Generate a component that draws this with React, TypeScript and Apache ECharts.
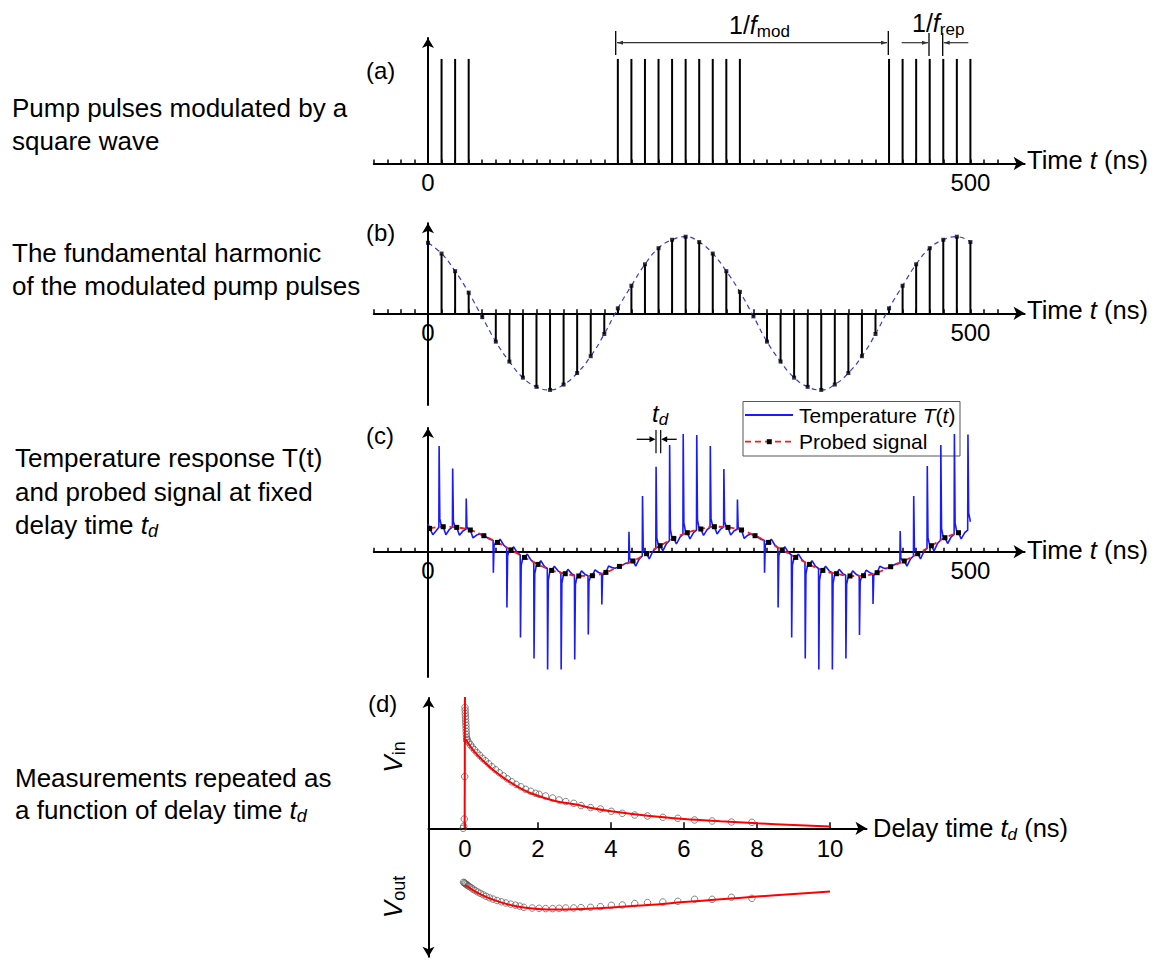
import React, { useEffect, useRef } from 'react';
import * as echarts from 'echarts';

const FONT = '"Liberation Sans", Arial, Helvetica, sans-serif';
const PULSE_PERIOD = 12.5; // ns between pump pulses (1/f_rep)

// ---------- (a) square-wave modulated pump pulses ----------
const aPulseIndex = [0, 1, 2, 3, 14, 15, 16, 17, 18, 19, 20, 21, 22, 23, 34, 35, 36, 37, 38, 39, 40];
const aPulseHeight = 1;

// ---------- (b) fundamental harmonic weights, pulse k = 0..40 ----------
const bHarmonic = [
  0.92, 0.78, 0.55, 0.27, -0.05, -0.37, -0.63, -0.84, -0.96, -1.0,
  -0.93, -0.78, -0.56, -0.27, 0.065, 0.36, 0.64, 0.85, 0.96, 1.0,
  0.93, 0.78, 0.55, 0.28, -0.04, -0.37, -0.63, -0.84, -0.96, -1.0,
  -0.93, -0.78, -0.56, -0.27, 0.065, 0.36, 0.64, 0.85, 0.96, 1.0, 0.93,
];

// ---------- (c) temperature response and probed signal ----------
const cProbeOffset = 1.5; // ns after each pulse slot
const cSpikeOffset = -2.5;
const cProbe = [
  23.3, 25, 24.3, 21.7, 16, 9.3, 1.7, -5.7, -12.7, -18.7,
  -22, -24.3, -24, -20.7, -14.7, -9.3, -2, 6, 13.3, 19,
  22.7, 25, 24.3, 21.7, 16, 9.3, 1.7, -5.7, -12.7, -18.7,
  -22, -24.3, -24, -21, -15, -9.3, -2, 6, 14, 19,
];
// values for pulse k = 1..40
const cPre = [
  24.5, 24.5, 22.5, 17.8, 11.4, 4.1, -3.3, -10.5, -16.8, -20.9,
  -23.6, -24.1, -21.8, -16.6, -11, -4.3, 3.4, 11, 17.2, 21.5,
  24.3, 24.5, 22.5, 17.8, 11.4, 4.1, -3.3, -10.5, -16.8, -20.9,
  -23.6, -24.1, -22, -16.9, -11, -4.3, 3.4, 11.4, 17.4, 21.5,
];
const cPeak = [
  105.7, 83.3, 53.3, null, -21, -55.7, -85.7, -106.7, -117.7, -117.7,
  -107.7, -82.7, -52.7, null, 20, 55.7, 85, 106.7, 117.7, 116.7,
  105.7, 82.7, 52.3, null, -21, -55.7, -85.7, -106.7, -117.7, -117.7,
  -106.7, -83.3, -52.3, null, 20.7, 55.7, 85.7, 106.7, 117.7, 117.3,
];
const cDip = [
  17, 16.5, 13.8, 14.4, 12.5, 4.9, -2.4, -9.1, -14.5, -17.6,
  -19.2, -18.2, -14.3, -13.4, -14.5, -7.1, 0.8, 7.7, 12.9, 16.3,
  17.8, 16.7, 13.3, 14.4, 12.5, 4.9, -2.4, -9.1, -14.5, -17.6,
  -19.2, -18.4, -14.6, -13.6, -14.5, -7.1, 0.9, 8.2, 12.9, null,
];
const cStart = [[0, 27.7], [1.5, 23.3], [4.5, 17], [7.5, 21]];
const cEnd = [[499.8, 30]];

// ---------- (d) measured V_in / V_out versus delay time ----------
const dVinT = [
  -0.05, -0.035, -0.02, -0.008, 0, 0.004, 0.008, 0.012, 0.016, 0.02, 0.024, 0.028, 0.032, 0.036, 0.04, 0.045,
  0.06, 0.1, 0.15, 0.2, 0.26, 0.33, 0.4, 0.48, 0.56, 0.65, 0.74, 0.84, 0.94, 1.05, 1.16, 1.28, 1.4, 1.53, 1.66, 1.8, 1.93,
  2.03, 2.21, 2.4, 2.58, 2.76, 2.98, 3.18, 3.44, 3.71, 4.01, 4.31, 4.65, 5.0, 5.42, 5.83, 6.29, 6.77, 7.3, 7.86,
];
const dVinV = [
  0, 2, 9.3, 51.7, 121, 118, 115, 112, 109, 106, 103, 100, 97, 94, 91, 88,
  89, 86, 83.5, 81, 78.5, 75.5, 73, 70, 67.5, 64.5, 61.5, 58.5, 55.5, 52.5, 49.5, 46.5, 44, 41.5, 39, 37, 35,
  34, 32.3, 30.3, 28.3, 26.7, 25, 22.7, 20.7, 19.3, 17, 15, 13.3, 12.3, 11, 10, 8.3, 7.3, 6.3, 6,
];
const dVinFitT = [0.02, 0.1, 0.25, 0.5, 0.8, 1.16, 1.6, 2.0, 2.5, 3.0, 3.5, 4.0, 5.0, 6.0, 7.0, 8.0, 9.0, 10.0];
const dVinFitV = [89, 84.5, 77, 67.5, 57.5, 48, 38.5, 32.5, 27, 24, 20, 17, 12.5, 9.3, 7, 5, 3.3, 1.7];
const dVinRise = [[-0.01, 0], [0, 140]];
const dVoutT = [
  -0.04, -0.02, 0, 0.02, 0.05, 0.08, 0.12, 0.17, 0.22, 0.28, 0.35, 0.42, 0.5, 0.58, 0.67, 0.77, 0.88, 1.0, 1.12, 1.25, 1.38, 1.5,
  1.61, 1.84, 2.03, 2.21, 2.4, 2.58, 2.76, 2.98, 3.18, 3.44, 3.71, 4.01, 4.31, 4.65, 5.0, 5.42, 5.83, 6.29, 6.77, 7.3, 7.86,
];
const dVoutV = [
  -54, -54.5, -55, -55.8, -56.5, -57.3, -58.3, -59.5, -60.8, -62.2, -63.7, -65, -66.5, -68, -69.5, -70.8, -72.2, -73.5, -74.7, -75.8, -76.8, -77.8,
  -79, -79.7, -80, -80.3, -80.3, -80, -79.7, -79.7, -79.3, -79, -78.3, -77, -76.7, -75.3, -74.3, -73.7, -73, -71, -71, -69, -70,
];
const dVoutFitT = [0, 0.25, 0.5, 0.8, 1.2, 1.6, 2, 2.5, 3, 3.5, 4, 5, 6, 7, 8, 9, 10];
const dVoutFitV = [-56.5, -62.5, -67.3, -71.8, -76.3, -79.2, -80.6, -81.2, -81, -80.3, -79.2, -76.8, -73.8, -71, -68.3, -65.8, -63.3];

// axis ticks
const timeTickValues: number[] = [];
for (let v = -50; v <= 525; v += PULSE_PERIOD) timeTickValues.push(v);
const timeLabelValues = [0, 500];
const delayTickValues = [0, 2, 4, 6, 8, 10];

function buildBlue(): number[][] {
  const pts: number[][] = cStart.map((p) => [p[0], p[1]]);
  for (let k = 1; k <= 40; k++) {
    const t = k * PULSE_PERIOD + cSpikeOffset;
    pts.push([t, cPre[k - 1]]);
    const pk = cPeak[k - 1];
    const m = k < cProbe.length ? cProbe[k] : null;
    if (pk != null) {
      const ref = m != null ? m : cEnd[0][1];
      pts.push([t + 0.25, pk]);
      pts.push([t + 0.9, ref + (pk - ref) * 0.1]);
      pts.push([t + 2.2, ref + (pk - ref) * 0.02]);
    }
    if (m != null) {
      pts.push([t + 4, m]);
      const d = cDip[k - 1];
      const nextPre = k < cPre.length ? cPre[k] : null;
      if (d != null) {
        pts.push([t + 6.5, d]);
        if (nextPre != null) pts.push([t + 9.8, d + (nextPre - d) * 0.72]);
      }
    }
  }
  cEnd.forEach((p) => pts.push([p[0], p[1]]));
  return pts;
}

const stemRender = (color: string) => (params: any, api: any) => {
  const p0 = api.coord([api.value(0), 0]);
  const p1 = api.coord([api.value(0), api.value(1)]);
  return {
    type: 'line',
    shape: { x1: p0[0], y1: p0[1], x2: p1[0], y2: p1[1] },
    style: { stroke: color, lineWidth: 2 },
  };
};

function timeXAxis(gridIndex: number, offset: number) {
  return {
    type: 'value', gridIndex, min: -50, max: 550, position: 'bottom', offset,
    axisLine: { show: true, onZero: false, symbol: ['none', 'arrow'], symbolSize: [10, 11], lineStyle: { color: '#000', width: 2 } },
    axisTick: { show: true, inside: true, length: 4, customValues: timeTickValues, lineStyle: { color: '#000', width: 1.5 } },
    axisLabel: { show: true, customValues: timeLabelValues, fontSize: 24, color: '#000', fontFamily: FONT, margin: 7 },
    splitLine: { show: false },
  };
}
function arrowYAxis(gridIndex: number, min: number, max: number, both = false, onZero = true) {
  return {
    type: 'value', gridIndex, min, max,
    axisLine: { show: true, onZero, symbol: both ? ['arrow', 'arrow'] : ['none', 'arrow'], symbolSize: [9, 10], lineStyle: { color: '#000', width: 2 } },
    axisTick: { show: false }, axisLabel: { show: false }, splitLine: { show: false },
  };
}

function txt(x: number, y: number, text: string, size: number, extra: any = {}) {
  return {
    type: 'text', x, y, silent: true,
    style: {
      text, fontSize: size, fontFamily: FONT, fill: '#000',
      align: 'left', verticalAlign: 'middle', textAlign: 'left', textVerticalAlign: 'middle',
      ...extra,
    },
  };
}
function richStyles(main: number, sub: number, subLH: number) {
  return {
    i: { fontStyle: 'italic', fontSize: main, fontFamily: FONT, lineHeight: 30 },
    n: { fontSize: main, fontFamily: FONT, lineHeight: 30 },
    s: { fontSize: sub, fontFamily: FONT, lineHeight: subLH, verticalAlign: 'bottom' },
    si: { fontSize: sub, fontStyle: 'italic', fontFamily: FONT, lineHeight: subLH, verticalAlign: 'bottom' },
  };
}
function line(x1: number, y1: number, x2: number, y2: number, color = '#000', w = 1.3, dash?: number[]) {
  return { type: 'line', silent: true, shape: { x1, y1, x2, y2 }, style: { stroke: color, lineWidth: w, lineDash: dash } };
}
function head(xTip: number, y: number, dir: number, color = '#000', len = 6, half = 2.5) {
  return {
    type: 'polygon', silent: true,
    shape: { points: [[xTip, y], [xTip - dir * len, y - half], [xTip - dir * len, y + half]] },
    style: { fill: color },
  };
}

export default function App() {
  const ref = useRef<HTMLDivElement>(null);
  useEffect(() => {
    if (!ref.current) return;
    const chart = echarts.init(ref.current, undefined, { renderer: 'svg' });

    const xA = 373.76, wA = 650.88;
    const grids = [
      { left: xA, top: 38, width: wA, height: 125.5 },
      { left: xA, top: 223.3, width: wA, height: 181.7 },
      { left: xA, top: 428, width: wA, height: 249 },
      { left: 428.5, top: 698, width: 438, height: 258.7 },
    ];

    const pulses = aPulseIndex.map((k) => [k * PULSE_PERIOD, aPulseHeight]);
    const harmonic = bHarmonic.map((v, k) => [k * PULSE_PERIOD, v]);
    const probe = cProbe.map((v, k) => [k * PULSE_PERIOD + cProbeOffset, v]);
    const blue = buildBlue();
    const vin = dVinT.map((t, i) => [t, dVinV[i]]);
    const vout = dVoutT.map((t, i) => [t, dVoutV[i]]);
    const vinFit = dVinFitT.map((t, i) => [t, dVinFitV[i]]);
    const voutFit = dVoutFitT.map((t, i) => [t, dVoutFitV[i]]);

    const leftText = (x: number, y: number, t: string) => txt(x, y, t, 26);

    const graphics: any[] = [
      // panel labels
      txt(366, 70, '(a)', 24), txt(366, 232, '(b)', 24), txt(366, 435, '(c)', 24), txt(368, 703, '(d)', 24),
      // left descriptions
      leftText(12, 108, 'Pump pulses modulated by a'),
      leftText(12, 141, 'square wave'),
      leftText(12, 253, 'The fundamental harmonic'),
      leftText(12, 286, 'of the modulated pump pulses'),
      leftText(15, 458, 'Temperature response T(t)'),
      leftText(15, 492, 'and probed signal at fixed'),
      txt(15, 525, '{n|delay time }{i|t}{si|d}', 26, { rich: richStyles(26, 18, 12) }),
      leftText(15, 778, 'Measurements repeated as'),
      txt(15, 810, '{n|a function of delay time }{i|t}{si|d}', 26, { rich: richStyles(26, 18, 12) }),
      // axis names
      txt(1027, 160, '{n|Time }{i|t}{n| (ns)}', 25.5, { rich: richStyles(25.5, 17, 12) }),
      txt(1027, 310, '{n|Time }{i|t}{n| (ns)}', 25.5, { rich: richStyles(25.5, 17, 12) }),
      txt(1027, 550, '{n|Time }{i|t}{n| (ns)}', 25.5, { rich: richStyles(25.5, 17, 12) }),
      txt(873, 828, '{n|Delay time }{i|t}{si|d}{n| (ns)}', 25.5, { rich: richStyles(25.5, 17, 12) }),
      // 1/f_mod annotation
      txt(729, 25, '{n|1/}{i|f}{s|mod}', 25, { rich: richStyles(25, 17, 16) }),
      line(615.7, 31, 615.7, 55), line(888.3, 31, 888.3, 55),
      line(617, 42.7, 887, 42.7, '#333', 1.2),
      head(617, 42.7, -1, '#333', 6, 2), head(887, 42.7, 1, '#333', 6, 2),
      // 1/f_rep annotation
      txt(912, 23, '{n|1/}{i|f}{s|rep}', 25, { rich: richStyles(25, 17, 16) }),
      line(929, 33, 929, 56), line(942.7, 33, 942.7, 56),
      line(901.7, 42.7, 928, 42.7, '#333', 1.2), head(928, 42.7, 1, '#333', 6, 2),
      line(968.3, 42.7, 943.7, 42.7, '#333', 1.2), head(943.7, 42.7, -1, '#333', 6, 2),
      // t_d annotation
      txt(652, 413, '{i|t}{si|d}', 24, { rich: richStyles(24, 17, 12) }),
      line(656, 430, 656, 453.3, '#000', 1.2), line(660.7, 430, 660.7, 453.3, '#000', 1.2),
      line(636.7, 439.3, 650, 439.3, '#000', 1.3), head(655.5, 439.3, 1, '#000', 6, 3),
      line(676.7, 439.3, 667, 439.3, '#000', 1.3), head(661.2, 439.3, -1, '#000', 6, 3),
      // legend
      { type: 'rect', silent: true, shape: { x: 743, y: 401.5, width: 217, height: 54.5 }, style: { fill: 'none', stroke: '#555', lineWidth: 1 } },
      line(745, 415, 793, 415, '#1a1aff', 2),
      txt(799, 415, '{n|Temperature }{i|T}{n|(}{i|t}{n|)}', 21, { rich: richStyles(21, 15, 12) }),
      line(745, 441.7, 793, 441.7, '#ff1a1a', 1.8, [6, 4]),
      { type: 'rect', silent: true, shape: { x: 766.8, y: 439.2, width: 5, height: 5 }, style: { fill: '#000' } },
      txt(799, 441.7, 'Probed signal', 21),
      // V_in / V_out
      { type: 'text', x: 393, y: 757, rotation: Math.PI / 2, silent: true,
        style: { text: '{i|V}{s|in}', rich: richStyles(26, 18, 14), align: 'center', verticalAlign: 'middle', textAlign: 'center', textVerticalAlign: 'middle' } },
      { type: 'text', x: 393, y: 897, rotation: Math.PI / 2, silent: true,
        style: { text: '{i|V}{s|out}', rich: richStyles(26, 18, 14), align: 'center', verticalAlign: 'middle', textAlign: 'center', textVerticalAlign: 'middle' } },
    ];

    const option: any = {
      animation: false,
      backgroundColor: '#fff',
      grid: grids,
      xAxis: [
        timeXAxis(0, 0), timeXAxis(1, -91.7), timeXAxis(2, -125.3),
        {
          type: 'value', gridIndex: 3, min: -1, max: 11, position: 'bottom', offset: -128.4,
          axisLine: { show: true, onZero: false, symbol: ['none', 'arrow'], symbolSize: [10, 11], lineStyle: { color: '#000', width: 2 } },
          axisTick: { show: true, inside: true, length: 6, customValues: delayTickValues, lineStyle: { color: '#000', width: 1.5 } },
          axisLabel: { show: true, customValues: delayTickValues, fontSize: 24, color: '#000', fontFamily: FONT, margin: 8 },
          splitLine: { show: false },
        },
      ],
      yAxis: [
        arrowYAxis(0, 0, 1.2),
        arrowYAxis(1, -1.197, 1.175),
        arrowYAxis(2, -125.3, 123.7),
        arrowYAxis(3, -128.4, 130.3, true, false),
      ],
      series: [
        { type: 'custom', xAxisIndex: 0, yAxisIndex: 0, data: pulses, renderItem: stemRender('#000'), silent: true },
        { type: 'custom', xAxisIndex: 1, yAxisIndex: 1, data: harmonic, renderItem: stemRender('#000'), silent: true },
        { type: 'scatter', xAxisIndex: 1, yAxisIndex: 1, data: harmonic, symbol: 'rect', symbolSize: 4, itemStyle: { color: '#000' }, silent: true, z: 4 },
        { type: 'line', xAxisIndex: 1, yAxisIndex: 1, data: harmonic, smooth: 0.5, showSymbol: false, lineStyle: { color: '#3a3ad8', width: 1.2, type: [5, 4] }, silent: true, z: 3 },
        { type: 'line', xAxisIndex: 2, yAxisIndex: 2, data: blue, showSymbol: false, lineStyle: { color: '#1a1aff', width: 1.6 }, silent: true },
        { type: 'line', xAxisIndex: 2, yAxisIndex: 2, data: probe, smooth: 0.4, symbol: 'rect', symbolSize: 5, showSymbol: true, itemStyle: { color: '#000' }, lineStyle: { color: '#ff1a1a', width: 1.8, type: [6, 4] }, silent: true, z: 4 },
        { type: 'scatter', xAxisIndex: 3, yAxisIndex: 3, data: vin, symbol: 'circle', symbolSize: 6.5, itemStyle: { color: 'rgba(0,0,0,0)', borderColor: '#555', borderWidth: 0.9 }, silent: true },
        { type: 'scatter', xAxisIndex: 3, yAxisIndex: 3, data: vout, symbol: 'circle', symbolSize: 6.5, itemStyle: { color: 'rgba(0,0,0,0)', borderColor: '#555', borderWidth: 0.9 }, silent: true },
        { type: 'line', xAxisIndex: 3, yAxisIndex: 3, data: dVinRise, showSymbol: false, lineStyle: { color: '#ff0000', width: 2 }, silent: true, z: 5 },
        { type: 'line', xAxisIndex: 3, yAxisIndex: 3, data: vinFit, smooth: 0.4, showSymbol: false, lineStyle: { color: '#ff0000', width: 2 }, silent: true, z: 5 },
        { type: 'line', xAxisIndex: 3, yAxisIndex: 3, data: voutFit, smooth: 0.4, showSymbol: false, lineStyle: { color: '#ff0000', width: 2 }, silent: true, z: 5 },
      ],
      graphic: graphics,
    };
    chart.setOption(option);
    return () => chart.dispose();
  }, []);

  return <div ref={ref} style={{ position: 'absolute', left: 0, top: 0, width: 1158, height: 966, background: '#fff' }} />;
}
